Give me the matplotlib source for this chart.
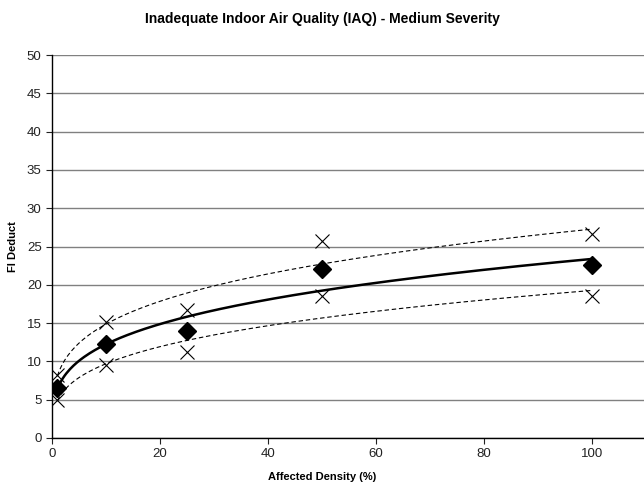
import matplotlib
matplotlib.use("Agg")
import matplotlib.pyplot as plt
import numpy as np

plt.rcParams['font.family'] = ['Liberation Sans', 'DejaVu Sans']

density = [1, 10, 25, 50, 100]
deduct_mean = [6.5, 12.3, 14.0, 22.1, 22.6]
deduct_high = [8.2, 15.1, 16.7, 25.7, 26.6]
deduct_low = [5.0, 9.5, 11.2, 18.5, 18.5]


def power_fit(x, y):
    b, ln_a = np.polyfit(np.log(x), np.log(y), 1)
    return np.exp(ln_a), b


fig = plt.figure(figsize=(6.44, 4.92), dpi=100)
ax = fig.add_axes([52 / 644, 54 / 492, 592 / 644, 383 / 492])

xs = np.linspace(1, 100, 300)
for yy, ls, lw in [(deduct_mean, '-', 1.8), (deduct_high, (0, (4, 2.5)), 0.8), (deduct_low, (0, (4, 2.5)), 0.8)]:
    a, b = power_fit(density, yy)
    ax.plot(xs, a * xs ** b, color='black', linestyle=ls, linewidth=lw, zorder=3)

ax.plot(density, deduct_high, linestyle='none', marker='x', markersize=10,
        markeredgewidth=0.8, color='black', zorder=4)
ax.plot(density, deduct_low, linestyle='none', marker='x', markersize=10,
        markeredgewidth=0.8, color='black', zorder=4)
ax.plot(density, deduct_mean, linestyle='none', marker='D', markersize=9,
        color='black', zorder=5)

ax.set_xlim(0, 109.6)
ax.set_ylim(0, 50)
ax.set_xticks(range(0, 101, 20))
ax.set_yticks(range(0, 51, 5))
ax.yaxis.grid(True, color='#808080', linewidth=1)
ax.set_axisbelow(True)
for s in ['top', 'right']:
    ax.spines[s].set_visible(False)
for s in ['left', 'bottom']:
    ax.spines[s].set_linewidth(1)
ax.tick_params(direction='out', length=4, labelsize=9.5, colors='#222222')

ax.set_xlabel('Affected Density (%)', fontsize=8, fontweight='bold')
ax.xaxis.set_label_coords((322 - 52) / 592, -34 / 383)
ax.set_ylabel('FI Deduct', fontsize=8, fontweight='bold', labelpad=6)
fig.text(322 / 644, 1 - 19 / 492, 'Inadequate Indoor Air Quality (IAQ) - Medium Severity',
         ha='center', va='center', fontsize=10, fontweight='bold')

fig.savefig('out.png', dpi=100)
